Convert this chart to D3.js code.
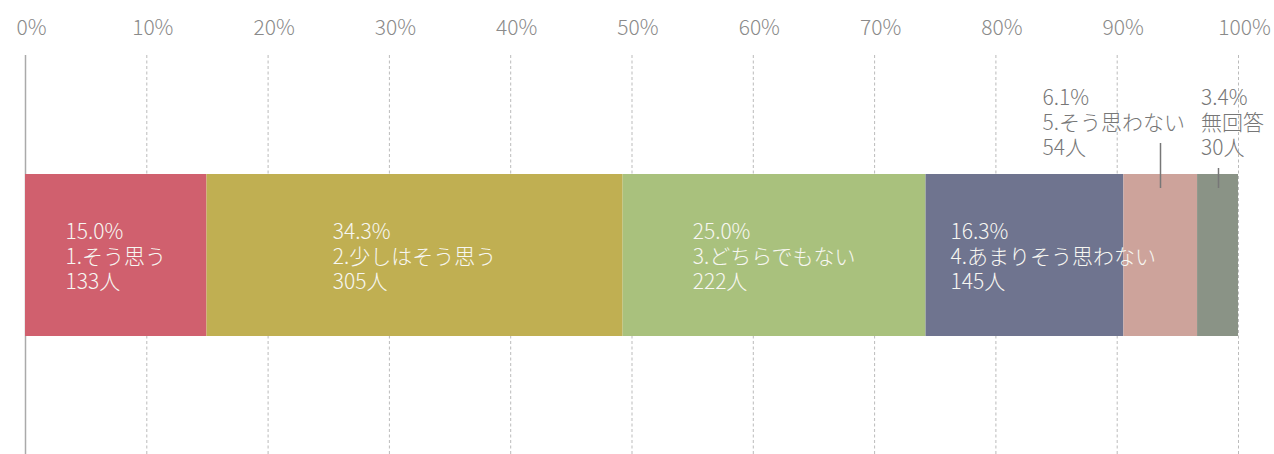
<!DOCTYPE html>
<html>
<head>
<meta charset="utf-8">
<script src="https://cdn.jsdelivr.net/npm/d3@7"></script>
<style>
  html, body { margin: 0; padding: 0; background: #fff; }
  svg { display: block; }
  text { font-family: "Noto Sans CJK JP", "Noto Sans", sans-serif; font-weight: 300; }
</style>
</head>
<body>
<svg id="chart" width="1274" height="454"></svg>
<script>
// Survey responses (single stacked bar)
const categories = ["1.そう思う", "2.少しはそう思う", "3.どちらでもない", "4.あまりそう思わない", "5.そう思わない", "無回答"];
const percentLabels = ["15.0%", "34.3%", "25.0%", "16.3%", "6.1%", "3.4%"];
const counts = [133, 305, 222, 145, 54, 30];
const colors = ["#D0606E", "#C0AF52", "#A9C17D", "#6F748F", "#CDA39B", "#8A9386"];
const tickValues = [0, 0.1, 0.2, 0.3, 0.4, 0.5, 0.6, 0.7, 0.8, 0.9, 1.0];

const W = 1274, H = 454;
const margin = { left: 25, right: 36, top: 55 };
const barTop = 174, barHeight = 162;
const fontSize = 21;
const lineStep = 25;

const svg = d3.select("#chart");
const total = d3.sum(counts);

const x = d3.scaleLinear().domain([0, 1]).range([margin.left, W - margin.right]);

// cumulative shares
let acc = 0;
const segs = counts.map((c, i) => {
  const s = { i, x0: acc / total, x1: (acc + c) / total };
  acc += c;
  return s;
});

// grid + tick labels
const axis = d3.axisTop(x)
  .tickValues(tickValues)
  .tickFormat(d3.format(".0%"))
  .tickSizeInner(-(H - margin.top))
  .tickSizeOuter(0)
  .tickPadding(20);

const gAxis = svg.append("g")
  .attr("transform", `translate(0,${margin.top})`)
  .call(axis);
gAxis.select(".domain").remove();
gAxis.selectAll(".tick line")
  .attr("stroke", "#bbb")
  .attr("stroke-width", 1)
  .attr("stroke-dasharray", "3,2.5")
  .filter(d => d === 0)
  .attr("stroke", "#aaa")
  .attr("stroke-width", 1.5)
  .attr("stroke-dasharray", null);
gAxis.selectAll(".tick text")
  .attr("fill", "#8a8a8a")
  .attr("font-size", fontSize)
  .attr("dx", 6)
  .style("font-family", '"Noto Sans CJK JP", "Noto Sans", sans-serif')
  .style("font-weight", 300);

// bars
svg.append("g").selectAll("rect")
  .data(segs)
  .join("rect")
  .attr("x", d => x(d.x0))
  .attr("y", barTop)
  .attr("width", d => x(d.x1) - x(d.x0))
  .attr("height", barHeight)
  .attr("fill", d => colors[d.i]);

function linesOf(i) {
  return [percentLabels[i], categories[i], counts[i] + "人"];
}

function makeLabel(g, i, fill) {
  const t = g.append("text")
    .attr("font-size", fontSize)
    .attr("fill", fill);
  linesOf(i).forEach((s, k) => {
    t.append("tspan").attr("x", 0).attr("y", k * lineStep).text(s);
  });
  return t;
}

function tspanWidths(t) {
  return t.selectAll("tspan").nodes().map(n => n.getComputedTextLength());
}

// labels inside the four wide segments
const labelsG = svg.append("g");
segs.slice(0, 4).forEach(d => {
  const g = labelsG.append("g");
  const t = makeLabel(g, d.i, "#f7f7f2");
  const w = d3.max(tspanWidths(t));
  const cx = (x(d.x0) + x(d.x1)) / 2;
  const left = Math.max(cx - w / 2, x(d.x0) + 25);
  const baseline = barTop + barHeight / 2 - lineStep + 9;
  g.attr("transform", `translate(${left},${baseline})`);
});

// labels above the two narrow segments, with leader lines
const outsideBase = 105;
const outer = segs.slice(4);
const g6 = labelsG.append("g");
const t6 = makeLabel(g6, outer[1].i, "#777");
const w6 = tspanWidths(t6);
const left6 = x(outer[1].x0) + 4;
g6.attr("transform", `translate(${left6},${outsideBase})`);

const g5 = labelsG.append("g");
const t5 = makeLabel(g5, outer[0].i, "#777");
const w5 = tspanWidths(t5);
const left5 = left6 - 16 - d3.max(w5);
g5.attr("transform", `translate(${left5},${outsideBase})`);

[[outer[0], left5, w5], [outer[1], left6, w6]].forEach(([d, left, widths]) => {
  const cx = Math.round((x(d.x0) + x(d.x1)) / 2) + 0.5;
  // lowest text line that spans the leader's x position
  let lastLine = 0;
  widths.forEach((w, k) => { if (left + w >= cx) lastLine = k; });
  const y0 = outsideBase + lastLine * lineStep + 13;
  svg.append("line")
    .attr("x1", cx).attr("x2", cx)
    .attr("y1", y0).attr("y2", barTop + 14)
    .attr("stroke", "#777")
    .attr("stroke-width", 1.5);
});
</script>
</body>
</html>
